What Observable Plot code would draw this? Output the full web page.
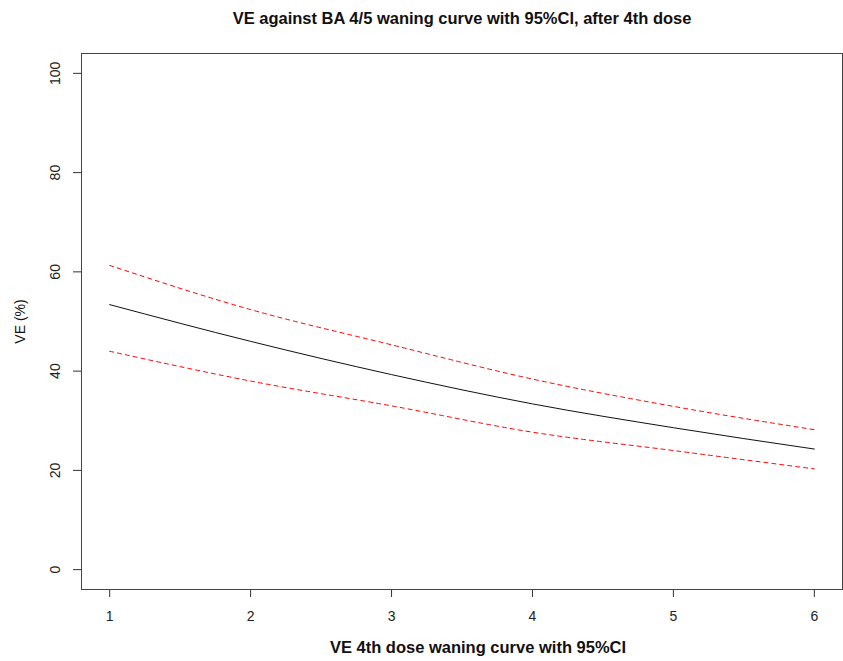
<!DOCTYPE html>
<html>
<head>
<meta charset="utf-8">
<script src="https://cdn.jsdelivr.net/npm/d3@7"></script>
<script src="https://cdn.jsdelivr.net/npm/@observablehq/plot@0.6"></script>
<style>
  html, body { margin: 0; padding: 0; background: white; }
</style>
</head>
<body>
<div id="chart"></div>
<script>
const doses = [1, 2, 3, 4, 5, 6];
const veFit = [53.4, 46.0, 39.3, 33.4, 28.6, 24.3];
const veUpper = [61.3, 52.4, 45.3, 38.4, 32.9, 28.2];
const veLower = [44.0, 38.0, 33.0, 27.7, 24.0, 20.3];
const xTicks = [1, 2, 3, 4, 5, 6];
const yTicks = [0, 20, 40, 60, 80, 100];
const titleText = "VE against BA 4/5 waning curve with 95%CI, after 4th dose";
const xLabel = "VE 4th dose waning curve with 95%CI";
const yLabel = "VE (%)";

const fitData = doses.map((d, i) => ({dose: d, ve: veFit[i]}));
const upperData = doses.map((d, i) => ({dose: d, ve: veUpper[i]}));
const lowerData = doses.map((d, i) => ({dose: d, ve: veLower[i]}));

const chart = Plot.plot({
  width: 843,
  height: 661,
  marginLeft: 81,
  marginRight: 1,
  marginTop: 53,
  marginBottom: 72,
  style: {fontFamily: "'Liberation Sans', Arial, sans-serif", fontSize: "14px", background: "white", color: "#333"},
  x: {domain: [0.8, 6.2], ticks: xTicks, tickSize: 8, tickFormat: () => "", label: null},
  y: {domain: [-4, 104], ticks: yTicks, tickSize: 8, tickFormat: () => "", label: null},
  marks: [
    Plot.frame({stroke: "#444"}),
    Plot.line(upperData, {x: "dose", y: "ve", stroke: "red", strokeWidth: 1, strokeDasharray: "4,4", curve: "monotone-x"}),
    Plot.line(lowerData, {x: "dose", y: "ve", stroke: "red", strokeWidth: 1, strokeDasharray: "4,4", curve: "monotone-x"}),
    Plot.line(fitData, {x: "dose", y: "ve", stroke: "#111", strokeWidth: 1, curve: "monotone-x"}),
    Plot.text(xTicks, {x: d => d, text: d => String(d), frameAnchor: "bottom", dy: 27, lineAnchor: "middle", fontSize: 14, fill: "#222"}),
    Plot.text(yTicks, {y: d => d, text: d => String(d), frameAnchor: "left", dx: -26, rotate: -90, textAnchor: "middle", lineAnchor: "middle", fontSize: 14, fill: "#222"}),
    Plot.text([titleText], {text: d => d, frameAnchor: "top", dy: -35, lineAnchor: "middle", fontWeight: "bold", fontSize: 16.5, fill: "#111"}),
    Plot.text([xLabel], {text: d => d, frameAnchor: "bottom", dx: 16, dy: 58, lineAnchor: "middle", fontWeight: "bold", fontSize: 16.5, fill: "#111"}),
    Plot.text([yLabel], {text: d => d, frameAnchor: "left", dx: -61, rotate: -90, textAnchor: "middle", lineAnchor: "middle", fontSize: 14, fill: "#111"})
  ]
});
document.getElementById("chart").appendChild(chart);
</script>
</body>
</html>
